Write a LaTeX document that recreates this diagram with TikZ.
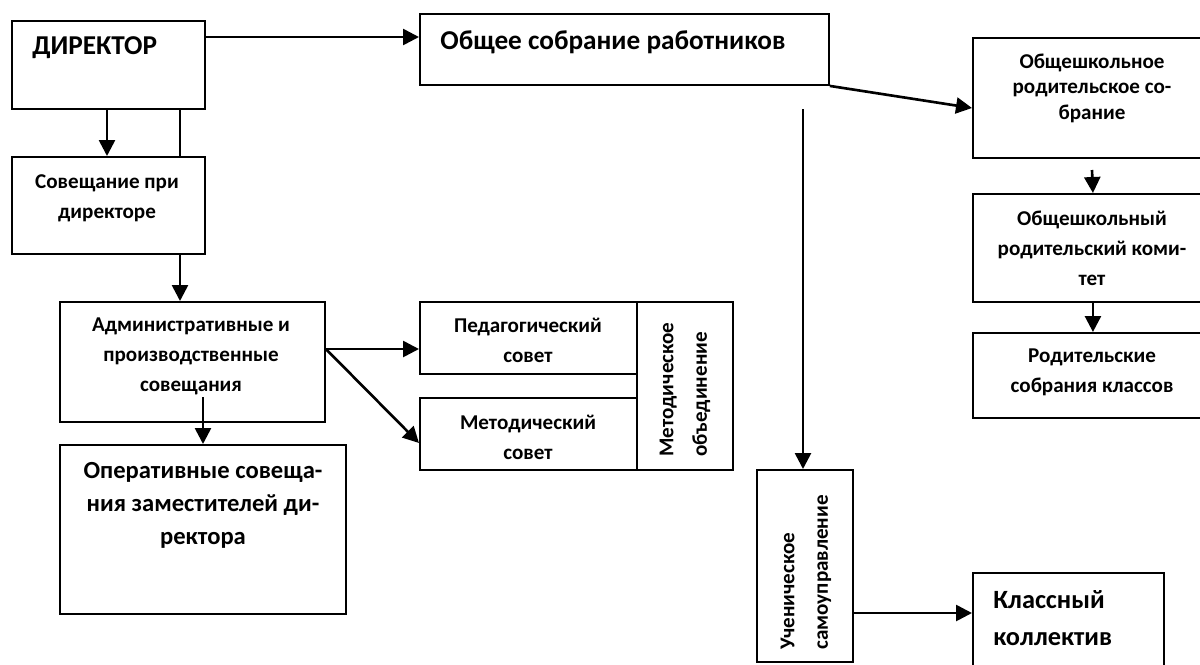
\documentclass[tikz,border=0pt]{standalone}
\usepackage{fontspec}
\setmainfont{Carlito}
\usetikzlibrary{arrows.meta}
\begin{document}
\begin{tikzpicture}[x=0.02cm,y=-0.02cm,
  box/.style={draw,line width=1.1pt,inner sep=0pt,anchor=north west},
  arr/.style={line width=1.5pt,-{Triangle[length=0.32cm,width=0.32cm]}},
  ln/.style={line width=1.1pt},
  sm/.style={font=\bfseries\fontsize{12}{17}\selectfont,align=center,inner sep=0pt},
  smtight/.style={font=\bfseries\fontsize{12}{14.5}\selectfont,align=center,inner sep=0pt},
  rot/.style={font=\bfseries\fontsize{12}{19}\selectfont,align=left,inner sep=0pt,rotate=90,anchor=west},
  mid/.style={font=\bfseries\fontsize{14}{18.7}\selectfont,align=center,inner sep=0pt},
  big/.style={font=\bfseries\fontsize{15.5}{21}\selectfont,align=left,inner sep=0pt}]
\useasboundingbox (0,0) rectangle (1200,664);
\clip (0,0) rectangle (1200,664);
% boxes
\node[box,minimum width=3.86cm,minimum height=1.76cm] (dir) at (11,20) {};
\node[box,minimum width=3.86cm,minimum height=1.94cm] (sov) at (11,156) {};
\node[box,minimum width=5.30cm,minimum height=2.40cm] (adm) at (59,301) {};
\node[box,minimum width=5.72cm,minimum height=3.38cm] (oper) at (59,444) {};
\node[box,minimum width=4.34cm,minimum height=1.44cm] (ped) at (419,301) {};
\node[box,minimum width=4.34cm,minimum height=1.44cm] (met) at (419,397) {};
\node[box,minimum width=1.92cm,minimum height=3.36cm] (mo) at (636,301) {};
\node[box,minimum width=8.18cm,minimum height=1.42cm] (obs) at (419,13) {};
\node[box,minimum width=4.80cm,minimum height=2.40cm] (ors) at (972,37) {};
\node[box,minimum width=4.80cm,minimum height=2.16cm] (ork) at (972,193) {};
\node[box,minimum width=4.80cm,minimum height=1.70cm] (rsk) at (972,332) {};
\node[box,minimum width=1.92cm,minimum height=3.84cm] (uch) at (756,469) {};
\node[box,minimum width=3.82cm,minimum height=2.20cm] (kk) at (972,572) {};
% texts
\node[big,anchor=west] (tdir) at (32,48) {ДИРЕКТОР};
\node[big,anchor=west] (tobs) at (440,42) {Общее собрание работников};
\node[sm] (tsov) at (107,198) {Совещание при\\директоре};
\node[sm] (tadm) at (191,356) {Административные и\\производственные\\совещания};
\node[mid] (toper) at (203,505) {Оперативные совеща-\\ния заместителей ди-\\ректора};
\node[sm] (tped) at (528,340) {Педагогический\\совет};
\node[sm] (tmet) at (528,437) {Методический\\совет};
\node[rot] (tmo) at (685,457) {Методическое\\объединение};
\node[smtight] (tors) at (1092,88) {Общешкольное\\родительское со-\\брание};
\node[sm] (tork) at (1092,248) {Общешкольный\\родительский коми-\\тет};
\node[sm] (trsk) at (1092,372) {Родительские\\собрания классов};
\node[rot] (tuch) at (806,650) {Ученическое\\самоуправление};
\node[big,anchor=west,font=\bfseries\fontsize{15}{21}\selectfont] (tkk) at (993,618) {Классный\\коллектив};
% connectors
\coordinate (c37) at (0,37);
\coordinate (c107) at (107,0);
\coordinate (c180) at (180,0);
\coordinate (c203) at (203,397);
\coordinate (c349) at (0,349);
\coordinate (c443) at (0,443);
\coordinate (c108) at (0,108);
\coordinate (v) at (803,109);
\coordinate (p170) at (1092,170);
\coordinate (c613) at (0,613);
\draw[arr] (dir.east |- c37) -- (obs.west |- c37);
\draw[arr] (dir.south -| c107) -- (sov.north -| c107);
\draw[ln] (dir.south -| c180) -- (sov.north -| c180);
\draw[arr] (sov.south -| c180) -- (adm.north -| c180);
\draw[arr] (c203) -- (oper.north -| c203);
\draw[arr] (adm.east |- c349) -- (ped.west |- c349);
\draw[arr] (adm.east |- c349) -- (met.west |- c443);
\draw[arr] (obs.south east) -- (ors.west |- c108);
\draw[arr] (v) -- (uch.north -| v);
\draw[arr] (p170) -- (ork.north);
\draw[arr] (ork.south) -- (rsk.north);
\draw[arr] (uch.east |- c613) -- (kk.west |- c613);
\end{tikzpicture}
\end{document}
